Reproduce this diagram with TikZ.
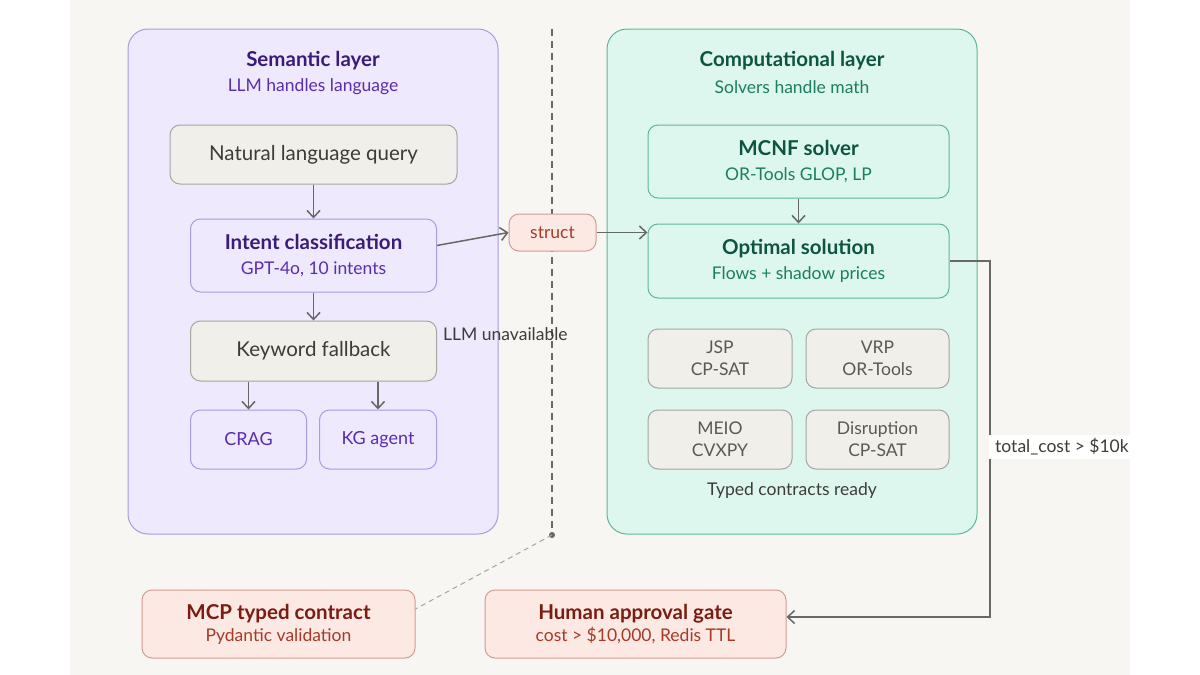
\documentclass[tikz,border=0pt]{standalone}
\usepackage{fontspec}
\setmainfont{Lato}
\usetikzlibrary{arrows.meta,positioning}
\definecolor{Paper}{HTML}{F7F6F3}
\definecolor{Ink}{HTML}{686866}
\definecolor{Graphite}{HTML}{3C3C38}
\definecolor{Stone}{HTML}{F0EFEA}
\definecolor{StoneLine}{HTML}{A6A59E}
\definecolor{PaleViolet}{HTML}{EEE9FC}
\definecolor{VioletLine}{HTML}{A89CE0}
\definecolor{DeepViolet}{HTML}{3A1B78}
\definecolor{Violet}{HTML}{5A2DB0}
\definecolor{PaleMint}{HTML}{DDF7EE}
\definecolor{MintLine}{HTML}{5DB69A}
\definecolor{DeepGreen}{HTML}{0D5541}
\definecolor{Green}{HTML}{1A7F5D}
\definecolor{PaleRed}{HTML}{FDE9E4}
\definecolor{RedLine}{HTML}{D49C8E}
\definecolor{DeepRed}{HTML}{7A1C10}
\definecolor{Red}{HTML}{A63A27}
\newcommand{\cardhead}[2]{{\fontsize{20.5}{25}\selectfont\bfseries\color{#1}#2}}
\tikzset{
  layer/.style={rounded corners=20pt,line width=1pt,minimum width=370pt,minimum height=505pt,inner sep=0pt},
  heading/.style={font=\fontsize{20.5}{24}\selectfont\bfseries,inner sep=0pt},
  subheading/.style={font=\fontsize{17.5}{21}\selectfont,inner sep=0pt},
  card/.style={rounded corners=10pt,line width=1pt,align=center,inner sep=0pt,font=\fontsize{17.5}{25}\selectfont},
  graycard/.style={card,fill=Stone,draw=StoneLine,text=Graphite,font=\fontsize{20.5}{24}\selectfont},
  solvercard/.style={card,fill=Stone,draw=StoneLine,text=Graphite!85,font=\fontsize{17.5}{22}\selectfont,minimum width=144pt,minimum height=59pt},
  violetcard/.style={card,fill=PaleViolet,draw=VioletLine,text=Violet},
  mintcard/.style={card,fill=PaleMint,draw=MintLine,text=Green,minimum width=301pt},
  redcard/.style={card,fill=PaleRed,draw=RedLine,text=Red,font=\fontsize{17.5}{22}\selectfont,minimum height=68pt},
  arrow/.style={-{Straight Barb[length=7pt,width=13pt]},line width=1.5pt,draw=Ink},
  divider/.style={line width=1.5pt,draw=Ink,dash pattern=on 7pt off 5pt},
  link/.style={line width=1pt,draw=Ink!60,dash pattern=on 5pt off 4pt},
  note/.style={font=\fontsize{17.5}{21}\selectfont,text=Graphite,inner sep=0pt}
}

\begin{document}
\begin{tikzpicture}[x=1pt,y=-1pt,node distance=20pt]
  \useasboundingbox (0,0) rectangle (1200,675);
  \fill[white] (0,0) rectangle (1200,675);
  \fill[Paper] (70,0) rectangle (1130,675);

  % semantic side
  \node[layer,fill=PaleViolet,draw=VioletLine] (semantic) at (313,281.5) {};
  \node[heading,text=DeepViolet] (semtitle) at (313,61) {Semantic layer};
  \node[subheading,text=Violet] (semsub) at (313,87) {LLM handles language};

  \node[graycard,minimum width=287pt,minimum height=59pt] (query) at (313.5,154.5) {Natural language query};
  \node[violetcard,minimum width=246pt,minimum height=73pt,below=34pt of query] (intent) {\cardhead{DeepViolet}{Intent classification}\\GPT-4o, 10 intents};
  \node[graycard,minimum width=246pt,minimum height=60pt,below=28pt of intent] (fallback) {Keyword fallback};
  \node[violetcard,minimum width=116pt,minimum height=59pt,font=\fontsize{18}{21}\selectfont,below right=28pt and 0pt of fallback.south west] (crag) {CRAG};
  \node[violetcard,minimum width=117pt,minimum height=59pt,font=\fontsize{18}{21}\selectfont,below left=28pt and 0pt of fallback.south east] (kgagent) {KG agent};

  \draw[arrow] (query) -- (intent);
  \draw[arrow] (intent) -- (fallback);
  \draw[arrow] (crag.north |- fallback.south) -- (crag.north);
  \draw[arrow] (kgagent.north |- fallback.south) -- (kgagent.north);

  % computational side
  \node[layer,fill=PaleMint,draw=MintLine] (computational) at (792,281.5) {};
  \node[heading,text=DeepGreen] (comptitle) at (792,61) {Computational layer};
  \node[subheading,text=Green] (compsub) at (792,87) {Solvers handle math};

  \node[mintcard,minimum height=73pt] (mcnf) at (798.5,161.5) {\cardhead{DeepGreen}{MCNF solver}\\OR-Tools GLOP, LP};
  \node[mintcard,minimum height=74pt,below=25pt of mcnf] (optimal) {\cardhead{DeepGreen}{Optimal solution}\\Flows + shadow prices};
  \node[solvercard,below right=30pt and 0pt of optimal.south west] (jsp) {JSP\\CP-SAT};
  \node[solvercard,minimum width=143pt,below left=30pt and 0pt of optimal.south east] (vrp) {VRP\\OR-Tools};
  \node[solvercard,below=21pt of jsp] (meio) {MEIO\\CVXPY};
  \node[solvercard,minimum width=143pt,below=21pt of vrp] (disruption) {Disruption\\CP-SAT};
  \node[note] (ready) at (792,491) {Typed contracts ready};

  \draw[arrow] (mcnf) -- (optimal);

  % boundary between the layers
  \coordinate (divtop) at (552,29);
  \coordinate (divend) at (552,535);
  \draw[divider] (divtop) -- (divend);
  \fill[Ink] (divend) circle (3pt);

  \node[card,fill=PaleRed,draw=RedLine,text=Red,minimum width=87pt,minimum height=37pt] (struct) at (552.5,232.5) {struct};
  \node[note,anchor=west] (unavailable) at (443,334) {LLM unavailable};

  \draw[arrow] ([yshift=10pt]intent.east) -- (struct.west);
  \draw[arrow] (struct.east) -- (struct.east -| optimal.west);

  % bottom row
  \node[redcard,minimum width=273pt] (mcp) at (278.5,624) {\cardhead{DeepRed}{MCP typed contract}\\Pydantic validation};
  \node[redcard,minimum width=301pt,right=69pt of mcp] (gate) {\cardhead{DeepRed}{Human approval gate}\\cost > \$10,000, Redis TTL};

  \draw[link] (divend) -- ([yshift=15pt]mcp.east);

  \coordinate (costturn) at (990,617);
  \draw[arrow] (optimal.east) -| (costturn) -- (costturn -| gate.east);
  \node[note,fill=white,anchor=west,inner xsep=6pt,inner ysep=4pt] (costtag) at (989,447) {total\_cost > \$10k};
\end{tikzpicture}
\end{document}
